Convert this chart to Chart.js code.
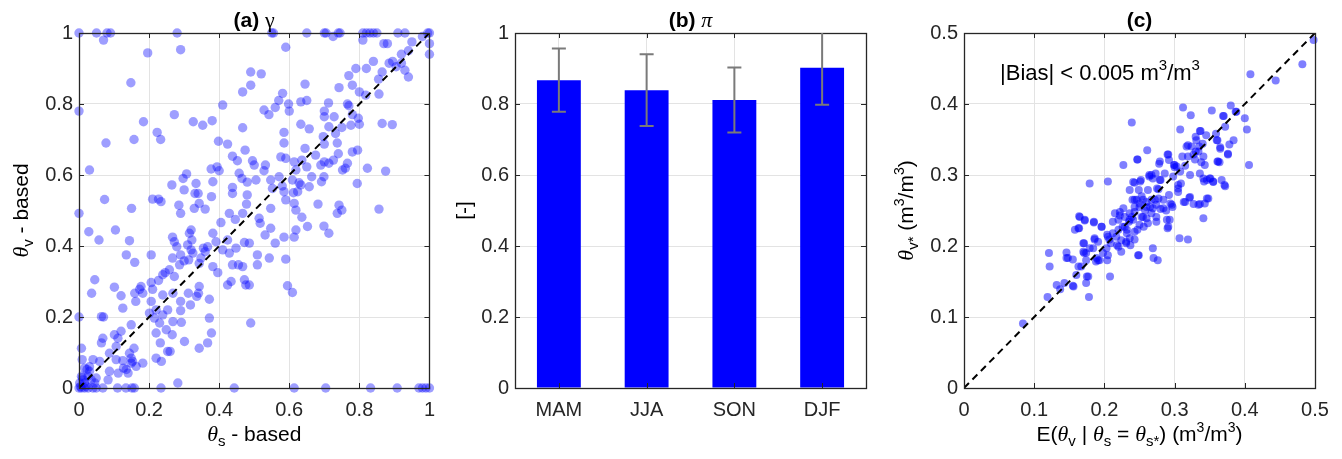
<!DOCTYPE html>
<html>
<head>
<meta charset="utf-8">
<script src="https://cdn.jsdelivr.net/npm/chart.js@4.4.0/dist/chart.umd.min.js"></script>
<style>
  html, body { margin: 0; padding: 0; background: #fff; }
  #wrap { position: relative; width: 1342px; height: 459px; }
  canvas { position: absolute; top: 0; }
</style>
</head>
<body>
<div id="wrap">
  <canvas id="chartA" width="445" height="459" style="left:0;width:445px;height:459px"></canvas>
  <canvas id="chartB" width="445" height="459" style="left:445px;width:445px;height:459px"></canvas>
  <canvas id="chartC" width="452" height="459" style="left:890px;width:452px;height:459px"></canvas>
</div>
<script>
// --- data ---
const unitTicks = [0, 0.2, 0.4, 0.6, 0.8, 1];
const unitTickLabels = ['0', '0.2', '0.4', '0.6', '0.8', '1'];
const halfTicks = [0, 0.1, 0.2, 0.3, 0.4, 0.5];
const halfTickLabels = ['0', '0.1', '0.2', '0.3', '0.4', '0.5'];

// (a) gamma: [theta_s based, theta_v based]
const gammaPoints = [
  [0,1],[0.05,1],[0.08,1],[0.09,1],[0.28,1],[0.55,1],[0.555,1],[0.65,1],[0.70,1],[0.705,1],[0.74,1],[0.745,1],
  [0.81,1],[0.82,1],[0.83,1],[0.84,1],[0.85,1],[0.91,1],[0.93,1],[1,1],[0.995,1],
  [0.07,0.98],[0.725,0.99],[0.81,0.98],[0.87,0.97],[0.88,0.97],[1,0.97],[1,0.94],[0.196,0.944],[0.29,0.953],
  [0.59,0.96],[0.95,0.975],[0.98,0.99],[0.94,0.95],[0.92,0.94],[0.92,0.915],[0.895,0.92],[0.885,0.915],
  [0.905,0.905],[0.84,0.92],[0.82,0.90],[0.79,0.90],[0.93,0.895],[0.94,0.876],[0.855,0.87],[0.865,0.89],
  [0.49,0.89],[0.52,0.885],[0.49,0.853],[0.467,0.834],[0.148,0.86],[0.77,0.88],[0.78,0.853],[0.742,0.846],
  [0.645,0.856],[0.581,0.83],[0.57,0.81],[0.56,0.79],[0.598,0.80],[0.60,0.78],[0.633,0.806],[0.65,0.81],
  [0.856,0.828],[0.80,0.834],[0.818,0.825],[0.712,0.803],[0.70,0.78],[0.766,0.80],[0.77,0.795],[0.41,0.797],
  [0.528,0.783],[0.542,0.77],[0,0.78],
  [0.184,0.75],[0.272,0.77],[0.326,0.75],[0.353,0.74],[0.38,0.753],[0.223,0.72],[0.233,0.70],[0.157,0.70],
  [0.077,0.69],[0.467,0.733],[0.633,0.743],[0.657,0.73],[0.585,0.72],[0.585,0.69],[0.645,0.675],[0.865,0.745],
  [0.894,0.742],[0.776,0.74],[0.78,0.77],[0.797,0.76],[0.80,0.743],[0.728,0.764],[0.70,0.764],[0.713,0.736],
  [0.732,0.717],[0.75,0.734],[0.737,0.69],[0.74,0.66],[0.78,0.665],[0.795,0.67],[0.697,0.708],[0.70,0.687],
  [0.424,0.687],[0.398,0.695],[0.474,0.67],[0.438,0.653],[0.452,0.64],[0.495,0.64],[0.50,0.628],[0.457,0.605],
  [0.465,0.59],[0.48,0.58],[0.505,0.586],[0.532,0.628],[0.528,0.612],[0.576,0.651],[0.59,0.647],[0.614,0.637],
  [0.619,0.614],[0.636,0.642],[0.65,0.623],[0.675,0.656],[0.69,0.628],[0.70,0.637],[0.713,0.633],[0.726,0.642],
  [0.766,0.633],[0.76,0.619],[0.752,0.614],[0.823,0.619],[0.875,0.611],[0.377,0.617],[0.40,0.612],[0.394,0.623],
  [0.307,0.603],[0.297,0.59],[0.03,0.614],[0.334,0.576],[0.331,0.548],[0.34,0.548],[0.30,0.558],[0.265,0.572],
  [0.36,0.504],[0.378,0.539],[0.285,0.515],[0.29,0.492],[0.21,0.532],[0.227,0.532],[0.234,0.525],[0.073,0.531],
  [0.15,0.506],
  [0.438,0.565],[0.48,0.544],[0.478,0.518],[0.552,0.562],[0.547,0.586],[0.571,0.595],[0.58,0.569],[0.585,0.553],
  [0.59,0.53],[0.609,0.586],[0.612,0.55],[0.624,0.553],[0.628,0.578],[0.633,0.572],[0.657,0.567],[0.664,0.595],
  [0.614,0.52],[0.619,0.501],[0.636,0.481],[0.652,0.455],[0.619,0.445],[0.585,0.425],[0.614,0.425],[0.682,0.518],
  [0.692,0.581],[0.699,0.595],[0.742,0.515],[0.75,0.501],[0.737,0.492],[0.699,0.456],[0.713,0.436],[0.856,0.504],
  [0.794,0.576],[0.547,0.506],[0.514,0.478],[0.517,0.464],[0.547,0.45],[0.531,0.431],[0.56,0.408],[0.543,0.366],
  [0.59,0.363],[0.509,0.375],[0.509,0.347],[0.486,0.408],[0.472,0.41],[0.467,0.492],[0.446,0.475],[0.429,0.492],
  [0.405,0.466],[0.382,0.436],[0.391,0.412],[0.41,0.389],[0.429,0.38],[0.448,0.394],[0.424,0.417],[0.315,0.436],
  [0.32,0.445],[0.322,0.417],[0.31,0.403],[0.32,0.389],[0.313,0.361],[0.325,0.38],[0.355,0.394],[0.36,0.384],
  [0.348,0.366],[0.343,0.351],[0.367,0.398],[0.267,0.425],[0.272,0.412],[0.279,0.398],[0.267,0.366],[0.29,0.375],
  [0.287,0.347],[0.30,0.358],[0.258,0.333],[0.239,0.319],[0.272,0.314],[0.144,0.415],[0.135,0.375],[0.159,0.354],
  [0.028,0.44],[0.057,0.417],[0.104,0.445],[0,0.492],[0.329,0.506],[0.343,0.52],[0.382,0.581],[0.438,0.548],
  [0.206,0.375],[0.382,0.342],[0.396,0.325],[0.424,0.29],[0.434,0.3],[0.438,0.347],[0.455,0.347],[0.467,0.342],
  [0.472,0.305],[0.476,0.29],[0.486,0.29],[0.343,0.286],[0.341,0.267],[0.336,0.258],[0.312,0.267],[0.372,0.25],
  [0.318,0.234],[0.29,0.244],[0.29,0.218],[0.292,0.185],[0.343,0.112],[0.367,0.127],[0.372,0.197],[0.378,0.155],
  [0.301,0.131],[0.49,0.183],[0.595,0.288],[0.609,0.269],[0.177,0.286],[0.173,0.278],[0.182,0.267],[0.206,0.297],
  [0.21,0.278],[0.227,0.303],[0.246,0.325],[0.268,0.267],[0.239,0.262],[0.206,0.244],[0.201,0.211],[0.22,0.22],
  [0.215,0.197],[0.239,0.206],[0.253,0.22],[0.268,0.187],[0.23,0.183],[0.159,0.267],[0.162,0.244],[0.149,0.178],
  [0.12,0.26],[0.125,0.225],[0.101,0.284],[0.045,0.305],[0.036,0.267],[0.064,0.201],[0.07,0.2],[0,0.2],
  [0.068,0.14],[0.064,0.127],[0.101,0.15],[0.12,0.16],[0.111,0.14],[0.106,0.117],[0.087,0.098],[0.059,0.075],
  [0.106,0.08],[0.125,0.077],[0.127,0.056],[0.144,0.098],[0.149,0.084],[0.149,0.07],[0.135,0.052],[0.14,0.042],
  [0.157,0.112],[0.153,0.075],[0.163,0.061],[0.182,0.07],[0.112,0.042],[0.087,0.047],[0.083,0.023],[0.22,0.084],
  [0.232,0.127],[0.235,0.075],[0.253,0.103],[0.26,0.103],[0.266,0.15],[0.249,0.164],[0.22,0.155],[0.282,0.014],
  [0.007,0.112],[0.009,0.08],[0.016,0.056],[0.023,0.052],[0.03,0.047],[0.026,0.033],[0.007,0.033],[0.011,0.023],
  [0.002,0.014],[0.016,0.014],[0.035,0.023],[0.045,0.014],[0.049,0.028],[0.004,0.004],[0.02,0.005],[0.01,0.03],
  [0.03,0.06],[0.04,0.08],
  [0,0],[0.007,0],[0.016,0],[0.026,0],[0.04,0],[0.049,0],[0.068,0],[0.11,0],[0.134,0],[0.151,0],[0.158,0],
  [0.234,0],[0.443,0],[0.614,0],[0.704,0],[0.832,0],[0.908,0],[0.97,0],[0.98,0],[0.99,0],[1,0]
];

// (b) pi by season
const seasons = ['MAM', 'JJA', 'SON', 'DJF'];
const piMean = [0.867, 0.839, 0.811, 0.902];
const piLow = [0.778, 0.738, 0.72, 0.798];
const piHigh = [0.956, 0.94, 0.903, 1.01];

// (c) E(theta_v | theta_s = theta_s*) vs theta_v*
const bestPoints = [
  [0.084,0.091],[0.119,0.128],[0.121,0.19],[0.122,0.171],[0.132,0.145],[0.137,0.139],[0.143,0.148],[0.146,0.191],
  [0.146,0.183],[0.155,0.181],[0.155,0.144],[0.16,0.159],[0.158,0.223],[0.164,0.225],[0.165,0.241],[0.167,0.171],
  [0.17,0.204],[0.171,0.19],[0.174,0.19],[0.172,0.236],[0.174,0.18],[0.174,0.148],[0.177,0.157],[0.178,0.128],
  [0.179,0.288],[0.179,0.197],[0.184,0.197],[0.185,0.234],[0.186,0.211],[0.188,0.178],[0.191,0.18],[0.191,0.206],
  [0.196,0.227],[0.198,0.19],[0.203,0.197],[0.204,0.18],[0.205,0.291],[0.205,0.213],[0.208,0.157],[0.207,0.209],
  [0.209,0.204],[0.212,0.234],[0.212,0.218],[0.215,0.246],[0.218,0.201],[0.22,0.223],[0.222,0.243],[0.224,0.192],
  [0.227,0.314],[0.229,0.227],[0.231,0.204],[0.232,0.218],[0.235,0.234],[0.236,0.246],[0.237,0.201],[0.239,0.374],
  [0.24,0.265],[0.241,0.237],[0.243,0.209],[0.243,0.289],[0.246,0.265],[0.247,0.322],[0.247,0.223],[0.249,0.187],
  [0.249,0.279],[0.25,0.255],[0.251,0.291],[0.253,0.241],[0.255,0.265],[0.256,0.227],[0.258,0.25],[0.26,0.262],
  [0.261,0.335],[0.262,0.279],[0.264,0.298],[0.265,0.255],[0.267,0.246],[0.267,0.3],[0.269,0.197],[0.27,0.183],
  [0.272,0.265],[0.273,0.302],[0.274,0.234],[0.275,0.281],[0.276,0.18],[0.278,0.316],[0.279,0.293],[0.28,0.252],
  [0.284,0.265],[0.286,0.302],[0.288,0.25],[0.29,0.225],[0.291,0.329],[0.292,0.321],[0.293,0.237],[0.294,0.26],
  [0.297,0.255],[0.298,0.298],[0.3,0.314],[0.303,0.312],[0.305,0.281],[0.307,0.211],[0.308,0.364],[0.309,0.288],
  [0.311,0.326],[0.312,0.395],[0.313,0.262],[0.315,0.313],[0.317,0.34],[0.319,0.209],[0.321,0.268],[0.322,0.3],
  [0.323,0.384],[0.324,0.34],[0.327,0.329],[0.327,0.259],[0.329,0.322],[0.33,0.354],[0.331,0.349],[0.334,0.258],
  [0.335,0.34],[0.336,0.302],[0.337,0.362],[0.338,0.318],[0.341,0.239],[0.342,0.291],[0.343,0.26],[0.345,0.356],
  [0.346,0.293],[0.348,0.267],[0.351,0.295],[0.353,0.391],[0.355,0.291],[0.359,0.358],[0.361,0.349],[0.362,0.319],
  [0.364,0.318],[0.365,0.337],[0.367,0.293],[0.369,0.383],[0.371,0.286],[0.372,0.368],[0.376,0.33],[0.378,0.343],
  [0.38,0.398],[0.384,0.349],[0.388,0.389],[0.4,0.38],[0.403,0.364],[0.406,0.314],[0.408,0.442],[0.444,0.433],
  [0.482,0.456],[0.498,0.49],[0.227,0.253],[0.224,0.208],[0.253,0.27],[0.26,0.239],[0.274,0.258],[0.28,0.293],
  [0.319,0.326],[0.33,0.333],[0.34,0.344],
  [0.387,0.389],[0.37,0.383],[0.336,0.362],[0.36,0.349],[0.365,0.339],[0.376,0.329],[0.319,0.342],[0.334,0.333],
  [0.29,0.329],[0.299,0.314],[0.341,0.326],[0.343,0.314],[0.361,0.319],[0.247,0.322],[0.279,0.319],[0.3,0.311],
  [0.308,0.305],[0.341,0.295],[0.35,0.295],[0.372,0.284],[0.355,0.29],[0.264,0.3],[0.269,0.295],[0.252,0.293],
  [0.241,0.29],[0.236,0.279],[0.277,0.28],[0.292,0.272],[0.305,0.276],[0.305,0.286],[0.322,0.269],[0.336,0.259],
  [0.346,0.267],[0.315,0.262],[0.296,0.258],[0.284,0.253],[0.269,0.253],[0.26,0.255],[0.25,0.26],[0.243,0.265],
  [0.267,0.265],[0.277,0.267],[0.274,0.241],[0.289,0.237],[0.291,0.227],[0.262,0.232],[0.25,0.23],[0.236,0.237],
  [0.229,0.241],[0.222,0.248],[0.255,0.241],[0.243,0.248],[0.164,0.242],[0.172,0.237],[0.185,0.233],[0.163,0.225],
  [0.196,0.227],[0.204,0.216],[0.186,0.209],[0.171,0.204],[0.17,0.192],[0.148,0.183],[0.163,0.171],[0.175,0.157],
  [0.156,0.143],[0.189,0.183],[0.193,0.18],[0.205,0.187],[0.22,0.199],[0.217,0.213],[0.22,0.237],[0.231,0.206],
  [0.236,0.211],[0.243,0.22],[0.232,0.223],[0.226,0.227],[0.248,0.187],[0.239,0.241],[0.243,0.255]
];

// --- styling helpers ---
const SANS = "'Liberation Sans', Arial, sans-serif";
const SERIF = "'Liberation Serif', 'Times New Roman', serif";
const AXIS_COLOR = '#262626';
const GRID_COLOR = '#e3e3e3';

const txt = (text, size = 21) => ({ text, font: `${size}px ${SANS}` });
const bold = (text) => ({ text, font: `bold 21px ${SANS}` });
const greek = (text, italic) => ({ text, font: `${italic ? 'italic ' : ''}22px ${SERIF}` });
const sub = (text) => ({ text, font: `15px ${SANS}`, dy: 5 });
const sup = (text, size = 14, dy = -9) => ({ text, font: `${size}px ${SANS}`, dy });
const theta = greek('θ', true);

function drawRuns(ctx, runs, x, y, align) {
  let total = 0;
  runs.forEach(r => { ctx.font = r.font; r.w = ctx.measureText(r.text).width; total += r.w; });
  let cx = align === 'center' ? x - total / 2 : x;
  runs.forEach(r => {
    ctx.font = r.font;
    ctx.fillText(r.text, cx, y + (r.dy || 0));
    cx += r.w;
  });
}

// box, inner tick marks and all the labels MATLAB style
const matlabAxes = {
  id: 'matlabAxes',
  afterDatasetsDraw(chart, args, opts) {
    const { ctx, chartArea: a, scales } = chart;
    ctx.save();
    ctx.strokeStyle = AXIS_COLOR;
    ctx.lineWidth = 1;
    ctx.beginPath();
    const tl = 5;
    scales.x.ticks.forEach((t, i) => {
      const px = Math.round(scales.x.getPixelForTick(i)) + 0.5;
      ctx.moveTo(px, a.bottom); ctx.lineTo(px, a.bottom - tl);
      ctx.moveTo(px, a.top); ctx.lineTo(px, a.top + tl);
    });
    scales.y.ticks.forEach((t, i) => {
      const py = Math.round(scales.y.getPixelForTick(i)) + 0.5;
      ctx.moveTo(a.left, py); ctx.lineTo(a.left + tl, py);
      ctx.moveTo(a.right, py); ctx.lineTo(a.right - tl, py);
    });
    ctx.stroke();
    ctx.lineWidth = 1.3;
    ctx.strokeRect(Math.round(a.left) + 0.5, Math.round(a.top) + 0.5,
      Math.round(a.right - a.left), Math.round(a.bottom - a.top));
    ctx.restore();
  },
  afterDraw(chart, args, opts) {
    const { ctx, chartArea: a } = chart;
    const mid = (a.left + a.right) / 2;
    ctx.save();
    ctx.fillStyle = '#000';
    ctx.textBaseline = 'alphabetic';
    if (opts.title) drawRuns(ctx, opts.title, mid, 27, 'center');
    if (opts.xLabel) drawRuns(ctx, opts.xLabel, mid, 441, 'center');
    if (opts.note) drawRuns(ctx, opts.note, opts.noteX, opts.noteY, 'left');
    if (opts.yLabel) {
      ctx.translate(opts.yLabelX, (a.top + a.bottom) / 2);
      ctx.rotate(-Math.PI / 2);
      drawRuns(ctx, opts.yLabel, 0, 0, 'center');
    }
    ctx.restore();
  }
};

// error bars for panel (b)
const errorBars = {
  id: 'errorBars',
  afterDatasetsDraw(chart) {
    const { ctx, chartArea: a, scales } = chart;
    ctx.save();
    ctx.beginPath();
    ctx.rect(a.left, a.top, a.right - a.left, a.bottom - a.top);
    ctx.clip();
    ctx.strokeStyle = '#7a7a7a';
    ctx.lineWidth = 2;
    ctx.beginPath();
    seasons.forEach((s, i) => {
      const x = scales.x.getPixelForValue(i);
      const yl = scales.y.getPixelForValue(piLow[i]);
      const yh = scales.y.getPixelForValue(piHigh[i]);
      ctx.moveTo(x, yl); ctx.lineTo(x, yh);
      ctx.moveTo(x - 7, yl); ctx.lineTo(x + 7, yl);
      ctx.moveTo(x - 7, yh); ctx.lineTo(x + 7, yh);
    });
    ctx.stroke();
    ctx.restore();
  }
};

function valueAxis(min, max, ticks, labels, isX, fitSize) {
  return {
    type: 'linear',
    min: min,
    max: max,
    afterBuildTicks: s => { s.ticks = ticks.map(v => ({ value: v })); },
    afterFit: s => { if (isX) s.height = fitSize; else s.width = fitSize; },
    grid: { color: GRID_COLOR, drawTicks: false },
    border: { display: false },
    ticks: {
      color: AXIS_COLOR,
      font: { family: SANS, size: 20 },
      padding: isX ? 10 : 6,
      maxRotation: 0,
      autoSkip: false,
      callback: (v, i) => labels[i]
    }
  };
}

function baseOptions(rightPad, xAxis, yAxis, axesOpts) {
  return {
    responsive: false,
    animation: false,
    events: [],
    layout: { padding: { top: 33, right: rightPad, left: 0, bottom: 0 } },
    plugins: { legend: { display: false }, tooltip: { enabled: false }, matlabAxes: axesOpts },
    scales: { x: xAxis, y: yAxis }
  };
}

function scatterChart(id, points, maxV, ticks, labels, radius, alpha, plotLeft, rightPad, axesOpts) {
  return new Chart(document.getElementById(id), {
    type: 'scatter',
    data: {
      datasets: [
        {
          type: 'line',
          data: [{ x: 0, y: 0 }, { x: maxV, y: maxV }],
          borderColor: '#000',
          borderWidth: 2,
          borderDash: [7, 5],
          pointRadius: 0,
          order: 0
        },
        {
          data: points.map(p => ({ x: p[0], y: p[1] })),
          backgroundColor: `rgba(0,0,255,${alpha})`,
          borderWidth: 0,
          pointRadius: radius,
          clip: false,
          order: 1
        }
      ]
    },
    options: baseOptions(rightPad,
      valueAxis(0, maxV, ticks, labels, true, 71),
      valueAxis(0, maxV, ticks, labels, false, plotLeft),
      axesOpts),
    plugins: [matlabAxes]
  });
}

scatterChart('chartA', gammaPoints, 1, unitTicks, unitTickLabels, 4.7, 0.38, 79, 14, {
  title: [bold('(a) '), greek('γ')],
  xLabel: [theta, sub('s'), txt(' - based')],
  yLabel: [theta, sub('v'), txt(' - based')],
  yLabelX: 28
});

const barY = valueAxis(0, 1, unitTicks, unitTickLabels, false, 70);
new Chart(document.getElementById('chartB'), {
  type: 'bar',
  data: {
    labels: seasons,
    datasets: [{
      data: piMean,
      backgroundColor: '#0000ff',
      borderWidth: 0,
      barPercentage: 0.5,
      categoryPercentage: 1
    }]
  },
  options: baseOptions(24, {
    type: 'category',
    offset: true,
    afterFit: s => { s.height = 71; },
    grid: { color: GRID_COLOR, drawTicks: false, offset: false },
    border: { display: false },
    ticks: { color: AXIS_COLOR, font: { family: SANS, size: 20 }, padding: 10, maxRotation: 0 }
  }, barY, {
    title: [bold('(b) '), greek('π', true)],
    yLabel: [txt('[-]')],
    yLabelX: 26
  }),
  plugins: [matlabAxes, errorBars]
});

scatterChart('chartC', bestPoints, 0.5, halfTicks, halfTickLabels, 4, 0.5, 74, 27, {
  title: [bold('(c)')],
  xLabel: [txt('E('), theta, sub('v'), txt(' | '), theta, sub('s'), txt(' = '), theta, sub('s*'),
    txt(') (m'), sup('3'), txt('/m'), sup('3'), txt(')')],
  yLabel: [theta, sub('v*'), txt(' (m'), sup('3'), txt('/m'), sup('3'), txt(')')],
  yLabelX: 23,
  note: [txt('|Bias| < 0.005 m', 22), sup('3', 15, -10), txt('/m', 22), sup('3', 15, -10)],
  noteX: 110,
  noteY: 80
});
</script>
</body>
</html>
